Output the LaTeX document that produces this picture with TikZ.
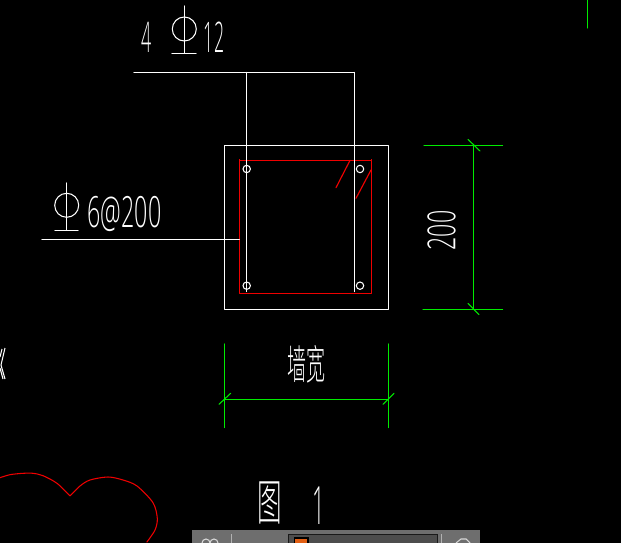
\documentclass[tikz,border=0pt]{standalone}
\usepackage{fontspec}
\usepackage{tkz-euclide}
\usepackage{xcolor}
\newfontfamily\cadfont{Open Sans Light}
\newfontfamily\cadcjk{Noto Sans CJK SC Light}
\definecolor{dimgreen}{RGB}{0,235,0}
\definecolor{barred}{RGB}{240,0,0}
\definecolor{bargrey}{RGB}{110,110,110}
\definecolor{iconorange}{RGB}{225,95,20}
\tikzset{
  inkline/.style={line width=0.6pt,white},
  stirrup/.style={line width=0.65pt,barred},
  dimline/.style={line width=0.6pt,dimgreen},
  cadlabel/.style={inner sep=0pt,text=white}
}
\newcommand{\narrow}[2]{\scalebox{#1}[1]{#2}}
\begin{document}
\begin{tikzpicture}[x=0.02cm,y=0.02cm]
    \fill[black] (0,0) rectangle (621,-543);
    \useasboundingbox (0,0) rectangle (621,-543);
    % wall and stirrup
    \tkzDefPoints{224.4/-145.4/A,388.4/-145.4/B,388.4/-309.4/C,224.4/-309.4/D}
    \tkzDefPoints{239.4/-160.4/E,371.4/-160.4/F,371.4/-293.4/G,239.4/-293.4/H}
    \tkzDefPoints{350/-160.4/K,336/-187.7/L,371/-170/M,356/-198.3/N}
    \tkzDrawPolygon[inkline](A,B,C,D)
    \tkzDrawPolygon[stirrup](E,F,G,H)
    \tkzDrawSegments[stirrup](K,L M,N)
    \draw[stirrup] (E) -- ++(0,1.5) (F) -- ++(0,1.5);
    % bars
    \tkzDefPoints{246.7/-169/Pa,360/-169/Pb,246.7/-285.7/Pc,360/-285.7/Pd}
    \foreach \bar in {Pa,Pb,Pc,Pd}
      \draw[inkline] (\bar) circle (3.7);
    % leaders
    \tkzDefPoints{134/-72.5/Q,246.4/-72.5/R,354.4/-72.5/S,246.4/-291.7/T,354.4/-291.7/U}
    \tkzDefPoints{42/-239.4/V,239.4/-239.4/W}
    \tkzDrawSegments[inkline](Q,S R,T S,U V,W)
    % phi marks
    \tkzDefPoints{184.3/-29/Oa,184.3/-6/Oc,184.3/-53.4/Od,172/-53.4/Oe,196/-53.4/Of}
    \tkzDefPoints{66.7/-205.3/Ia,66.7/-183/Ic,66.7/-230.4/Id,55/-230.4/Ie,78/-230.4/If}
    \tkzDrawSegments[inkline](Oc,Od Oe,Of Ic,Id Ie,If)
    \draw[inkline] (Oa) circle (12) (Ia) circle (12);
    % dimensions
    \tkzDefPoints{224.4/-344/Da,224.4/-427.7/Db,388.4/-344/Dc,388.4/-427.7/Dd}
    \tkzDefPoints{224.4/-399.4/De,388.4/-399.4/Df}
    \tkzDefPoints{219/-404.3/Ta,230.7/-393.3/Tb,383/-404.3/Tc,394/-393.3/Td}
    \tkzDefPoints{424/-145.4/Ea,502.7/-145.4/Eb,423/-309.4/Ec,502.7/-309.4/Ed}
    \tkzDefPoints{473.4/-145.4/Ee,473.4/-309.4/Ef}
    \tkzDefPoints{468/-139.4/Tf,480/-151/Tg,468/-303.4/Th,479/-314.6/Ti}
    \tkzDefPoints{587.4/0/Ga,587.4/-28/Gb}
    \tkzDrawSegments[dimline](Da,Db Dc,Dd De,Df Ta,Tb Tc,Td Ea,Eb Ec,Ed Ee,Ef Tf,Tg Th,Ti Ga,Gb)
    % labels
    \node[cadlabel] (four) at (147,-37.5) {\cadfont\fontsize{24}{25}\selectfont\narrow{.42}{4}};
    \node[cadlabel] (twelve) at (214,-37.5) {\cadfont\fontsize{24}{25}\selectfont\narrow{.42}{12}};
    \node[cadlabel] (spacing) at (124.5,-214) {\cadfont\fontsize{24.5}{26}\selectfont\narrow{.54}{6@200}};
    \node[cadlabel,rotate=90] (depth) at (441.5,-230.5) {\cadfont\fontsize{22}{23}\selectfont\narrow{.6}{200}};
    \node[cadlabel] (width) at (306.5,-364.5) {\cadcjk\fontsize{23}{24}\selectfont\narrow{.47}{墙宽}};
    \node[cadlabel] (fig) at (269.5,-502.5) {\cadcjk\fontsize{28}{29}\selectfont\narrow{.5}{图}};
    \node[cadlabel] (num) at (319,-505.5) {\cadfont\fontsize{30}{31}\selectfont\narrow{.42}{1}};
    % clipped bits at the edge
    \draw[inkline] (5,-348) -- (1,-365) -- (5,-379) (2,-349) -- (0,-357) (0,-368) -- (3,-379);
    \draw[line width=0.6pt,barred] plot[smooth,tension=.5] coordinates {(0,-477.7) (10,-474.7) (23,-473.3) (33,-473.3) (43,-475.7) (57,-483.3) (70,-496)};
    \draw[line width=0.6pt,barred] plot[smooth,tension=.5] coordinates {(70,-496) (80,-486) (90,-480) (108,-477) (123,-480) (137,-486) (153,-502.7) (157.3,-518.3) (155,-530) (146.7,-542.3)};
    % toolbar
    \fill[bargrey] (192,-530) rectangle (480,-543);
    \fill[black!90] (288,-533.5) rectangle (438,-543);
    \fill[bargrey!70!black] (289,-534.5) rectangle (437,-543);
    \fill[black] (293.5,-537) rectangle (308.5,-543);
    \fill[iconorange] (295,-538.5) rectangle (307,-543);
    \draw[line width=0.6pt,white!85!black] (202,-543) arc (180:0:4) arc (180:0:4);
    \draw[line width=0.6pt,white!85!black] (456,-543) -- (461,-539) -- (466,-539) -- (470,-543);
    \draw[line width=0.4pt,white!70!black] (231,-534) -- (231,-543) (441,-534) -- (441,-543);
\end{tikzpicture}
\end{document}
